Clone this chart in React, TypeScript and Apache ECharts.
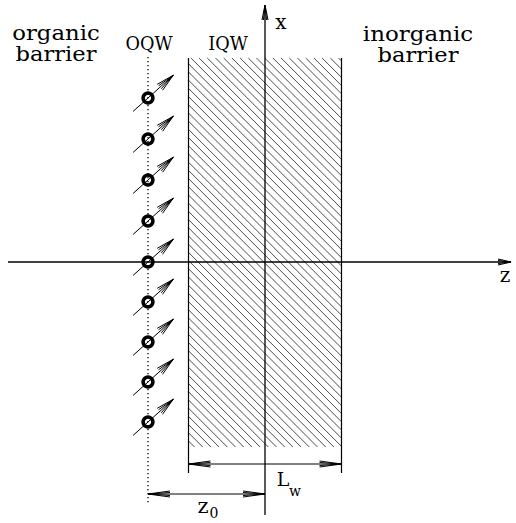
import React, { useEffect, useRef } from 'react';
import * as echarts from 'echarts';

// ---- Diagram data (diagram units; 1 unit = 10 px at this size) ----
const wellWidth = 15.3;          // L_w : width of the inorganic quantum well
const oqwOffset = 11.7;          // z_0 : distance of the organic layer from the well centre
const moleculeX = [16.4, 12.3, 8.2, 4.1, 0, -4.0, -8.0, -12.0, -16.0]; // molecule positions along x
const dipoleAngleDeg = 42;       // orientation of the molecular dipoles
const axisNames = ['z', 'x'];
const leftLabels = ['organic', 'barrier'];
const rightLabels = ['inorganic', 'barrier'];
const layerLabels = ['OQW', 'IQW'];
const dimLabels = { lw: ['L', 'w'], z0: ['z', '0'] };

// ---- Layout extents (diagram units) ----
const wellTop = 20.4;
const hatchBottom = -18.5;
const edgeBottom = -21.1;
const lwArrowX = -20.2;
const z0ArrowX = -23.2;
const dotTop = 20.5;
const dotBottom = -24.1;
const vAxisTop = 25.7;
const vAxisBottom = -25.3;
const hAxisLeft = -25.7;
const hAxisRight = 24.6;

function arrowHead(tx: number, ty: number, dx: number, dy: number, len: number, hw: number, lw = 1) {
  const nx = -dy, ny = dx;
  const bx = tx - dx * len, by = ty - dy * len;
  const out: any[] = [];
  [1, 0.5].forEach((f) => {
    out.push({
      type: 'polyline',
      shape: {
        points: [
          [bx + nx * hw * f, by + ny * hw * f],
          [tx, ty],
          [bx - nx * hw * f, by - ny * hw * f],
        ],
      },
      style: { stroke: '#000', lineWidth: lw, fill: 'none' },
    });
  });
  return out;
}

function line(a: number[], b: number[], style: any) {
  return { type: 'line', shape: { x1: a[0], y1: a[1], x2: b[0], y2: b[1] }, style };
}

export default function App() {
  const ref = useRef<HTMLDivElement>(null);
  useEffect(() => {
    if (!ref.current) return;
    const chart = echarts.init(ref.current, undefined, { renderer: 'svg' });
    const half = wellWidth / 2;

    const renderItem = (_params: any, api: any) => {
      const P = (z: number, x: number) => api.coord([z, x]);
      const children: any[] = [];

      // hatched well
      const [x1, y1] = P(-half, wellTop);
      const [x2, y2] = P(half, hatchBottom);
      for (let c = y1 - x2 + 3; c <= y2 - x1; c += 8.2) {
        const sx = Math.max(x1, y1 - c);
        const ex = Math.min(x2, y2 - c);
        if (ex > sx) {
          children.push(line([sx, sx + c], [ex, ex + c], { stroke: '#1e1e1e', lineWidth: 0.8 }));
        }
      }
      // well edges (with extension lines)
      children.push(line(P(-half, wellTop), P(-half, edgeBottom), { stroke: '#000', lineWidth: 1.2 }));
      children.push(line(P(half, wellTop), P(half, edgeBottom), { stroke: '#000', lineWidth: 1.2 }));

      // axes
      const hl = P(hAxisLeft, 0), hr = P(hAxisRight, 0);
      children.push(line(hl, hr, { stroke: '#000', lineWidth: 1.3 }));
      children.push(...arrowHead(hr[0], hr[1], 1, 0, 13, 3, 1.1));
      const vb = P(0, vAxisBottom), vt = P(0, vAxisTop);
      children.push(line(vb, vt, { stroke: '#000', lineWidth: 1.3 }));
      children.push(...arrowHead(vt[0], vt[1], 0, -1, 15, 3, 1.1));

      // organic layer (dotted)
      children.push(line(P(-oqwOffset, dotTop), P(-oqwOffset, dotBottom), { stroke: '#000', lineWidth: 1.3, lineDash: [1.3, 2.7] }));

      // dimension arrows
      const la = P(-half, lwArrowX), lb = P(half, lwArrowX);
      children.push(line(la, lb, { stroke: '#000', lineWidth: 1 }));
      children.push(...arrowHead(la[0], la[1], -1, 0, 22, 3));
      children.push(...arrowHead(lb[0], lb[1], 1, 0, 22, 3));
      const za = P(-oqwOffset, z0ArrowX), zb = P(0, z0ArrowX);
      children.push(line(za, zb, { stroke: '#000', lineWidth: 1 }));
      children.push(...arrowHead(za[0], za[1], -1, 0, 22, 3));
      children.push(...arrowHead(zb[0], zb[1], 1, 0, 22, 3));

      // molecules with dipoles
      const th = (dipoleAngleDeg * Math.PI) / 180;
      const dx = Math.cos(th), dy = -Math.sin(th);
      moleculeX.forEach((mx) => {
        const [cx, cy] = P(-oqwOffset, mx);
        const tail = [cx - dx * 20, cy - dy * 20];
        const tip = [cx + dx * 34, cy + dy * 34];
        children.push(line(tail, tip, { stroke: '#000', lineWidth: 1 }));
        children.push(...arrowHead(tip[0], tip[1], dx, dy, 18, 4, 1));
        children.push({
          type: 'circle',
          shape: { cx, cy, r: 4.9 },
          style: { fill: 'none', stroke: '#000', lineWidth: 3.5 },
        });
      });

      return { type: 'group', children };
    };

    const serif = '"DejaVu Serif", serif';
    const txt = (text: string, x: number, y: number, size: number, scaleX = 1) => ({
      type: 'text',
      x,
      y,
      scaleX,
      silent: true,
      style: { text, fontSize: size, fontFamily: serif, fill: '#000', textAlign: 'center', textVerticalAlign: 'middle' },
    });

    chart.setOption({
      animation: false,
      backgroundColor: '#fff',
      grid: { left: 0, right: 0, top: 0, bottom: 0 },
      xAxis: { type: 'value', min: -26.5, max: 25.1, show: false },
      yAxis: { type: 'value', min: -26.1, max: 26.2, show: false },
      series: [
        {
          type: 'custom',
          coordinateSystem: 'cartesian2d',
          clip: false,
          silent: true,
          data: [[0, 0]],
          renderItem,
        },
      ],
      graphic: [
        txt(leftLabels[0], 56, 33, 20, 1.14),
        txt(leftLabels[1], 56, 54, 20, 1.13),
        txt(rightLabels[0], 418, 34, 20, 1.15),
        txt(rightLabels[1], 418, 55, 20, 1.13),
        txt(layerLabels[0], 149, 43, 19, 0.93),
        txt(layerLabels[1], 228, 43, 19, 0.93),
        txt(axisNames[1], 281, 22, 20),
        txt(axisNames[0], 505, 275, 20),
        txt(dimLabels.lw[0], 283, 479, 19),
        txt(dimLabels.lw[1], 295, 491, 14),
        txt(dimLabels.z0[0], 203, 506, 21),
        txt(dimLabels.z0[1], 214, 513, 14),
      ],
    });
    return () => chart.dispose();
  }, []);
  return <div ref={ref} style={{ position: 'fixed', left: 0, top: 0, width: 516, height: 523 }} />;
}
